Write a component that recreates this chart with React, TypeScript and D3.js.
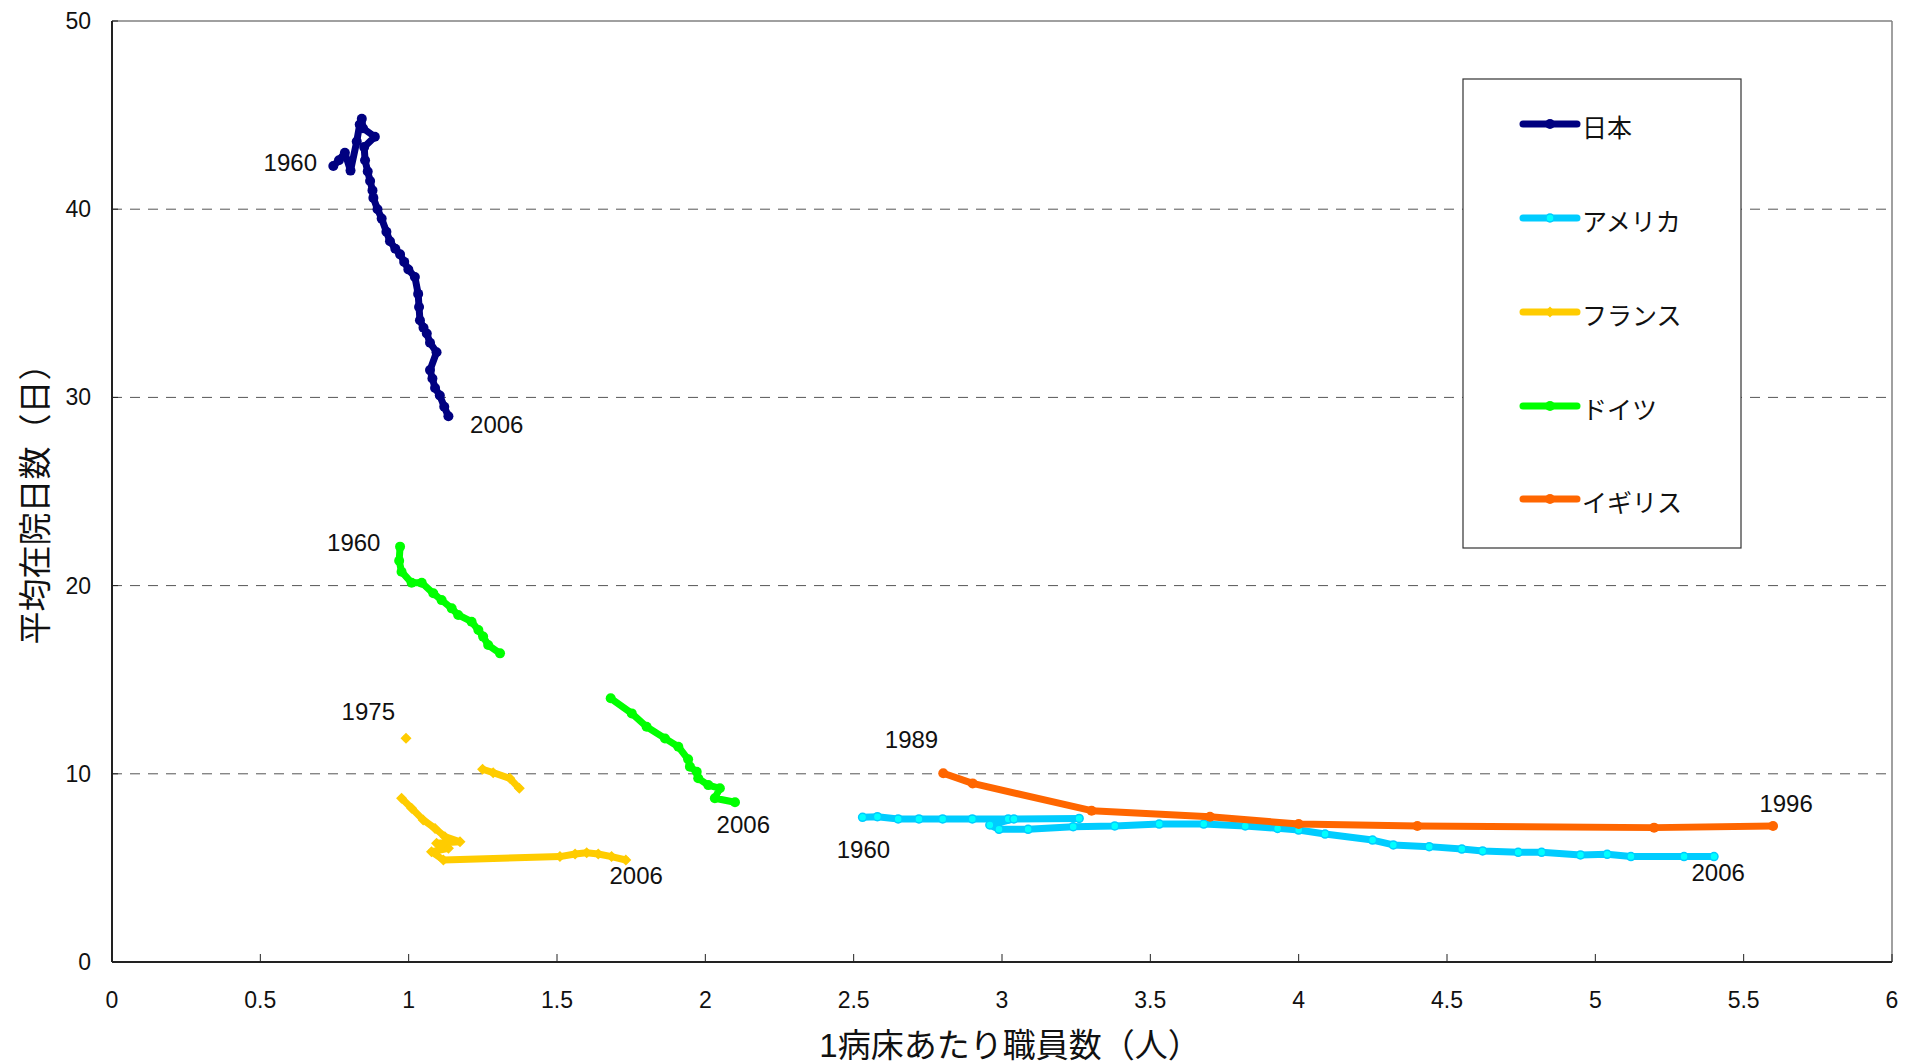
import React from "react";
import * as d3 from "d3";

type P = [number, number] | null;

// ---- data (x: 1病床あたり職員数, y: 平均在院日数) ----
const japan: P[] = [
  [0.746, 42.3], [0.765, 42.6], [0.785, 43.0], [0.804, 42.05], [0.825, 43.6], [0.835, 44.5],
  [0.842, 44.8], [0.846, 44.3], [0.886, 43.85], [0.85, 43.3], [0.853, 42.6], [0.862, 42.0],
  [0.87, 41.5], [0.878, 41.0], [0.881, 40.6], [0.895, 40.0], [0.909, 39.5], [0.925, 38.8],
  [0.937, 38.3], [0.955, 37.9], [0.971, 37.6], [0.985, 37.2], [0.999, 36.8], [1.021, 36.4],
  [1.032, 35.5], [1.035, 34.8], [1.038, 34.1], [1.05, 33.7], [1.061, 33.4], [1.072, 32.9],
  [1.094, 32.4], [1.072, 31.45], [1.08, 31.0], [1.089, 30.5], [1.105, 30.1], [1.12, 29.5],
  [1.134, 29.0],
];

const usa: P[] = [
  [2.53, 7.69], [2.58, 7.72], [2.65, 7.6], [2.72, 7.6], [2.8, 7.6], [2.9, 7.6], [3.021, 7.6],
  [3.26, 7.63], [3.04, 7.6], [2.959, 7.28], [2.99, 7.05], [3.088, 7.05], [3.24, 7.19],
  [3.38, 7.23], [3.53, 7.33], [3.68, 7.33], [3.82, 7.23], [3.929, 7.1], [4.0, 7.01],
  [4.089, 6.8], [4.249, 6.48], [4.319, 6.22], [4.44, 6.13], [4.55, 6.0], [4.62, 5.9],
  [4.74, 5.83], [4.819, 5.83], [4.95, 5.69], [5.04, 5.72], [5.12, 5.6], [5.299, 5.6], [5.4, 5.6],
];

const france: P[] = [
  [0.991, 11.89], null,
  [1.249, 10.24], [1.285, 10.06], [1.341, 9.76], [1.373, 9.23], null,
  [0.976, 8.7], [1.01, 8.17], [1.049, 7.55], [1.089, 7.1], [1.122, 6.66], [1.173, 6.39],
  [1.094, 6.31], [1.134, 6.04], [1.077, 5.86], [1.117, 5.42], [1.51, 5.6], [1.561, 5.74],
  [1.6, 5.81], [1.639, 5.74], [1.684, 5.6], [1.732, 5.42],
];

const germany: P[] = [
  [0.971, 22.07], [0.968, 21.32], [0.976, 20.74], [1.01, 20.15], [1.044, 20.15], [1.083, 19.59],
  [1.111, 19.23], [1.145, 18.79], [1.167, 18.44], [1.212, 18.08], [1.235, 17.64], [1.251, 17.29],
  [1.268, 16.84], [1.308, 16.4], null,
  [1.681, 14.01], [1.752, 13.21], [1.802, 12.5], [1.864, 11.88], [1.909, 11.44], [1.942, 10.77],
  [1.948, 10.38], [1.971, 10.11], [1.976, 9.76], [2.01, 9.4], [2.049, 9.23], [2.032, 8.7],
  [2.1, 8.49],
];

const uk: P[] = [
  [2.802, 10.03], [2.901, 9.49], [3.302, 8.04], [3.701, 7.72], [4.0, 7.33], [4.4, 7.23],
  [5.198, 7.14], [5.599, 7.23],
];

const seriesNames = ["日本", "アメリカ", "フランス", "ドイツ", "イギリス"];
const seriesData = [japan, usa, france, germany, uk];
const seriesColors = ["#000080", "#00CCFF", "#FFCC00", "#00FF00", "#FF6600"];
const markerFill = ["#000080", "#00FFFF", "#FFCC00", "#00FF00", "#FF6600"];
const markerShape = ["circle", "circle", "diamond", "circle", "circle"];

const yearLabels = ["1960", "2006", "1960", "1975", "2006", "2006", "1989", "1960", "2006", "1996"];
const yearLabelX = [0.691, 1.207, 0.725, 0.774, 2.038, 1.677, 2.605, 2.443, 5.324, 5.553];
const yearLabelY = [42.03, 28.11, 21.84, 12.86, 6.84, 4.14, 11.36, 5.51, 4.32, 7.97];
const yearLabelAnchor = ["end", "start", "start", "start", "start", "start", "start", "start", "start", "start"];

const xTicks = [0, 0.5, 1, 1.5, 2, 2.5, 3, 3.5, 4, 4.5, 5, 5.5, 6];
const yTicks = [0, 10, 20, 30, 40, 50];
const xTitle = "1病床あたり職員数（人）";
const yTitle = "平均在院日数（日）";

const W = 1916;
const H = 1062;
const L = 112, R = 1892, T = 21, B = 962;
const FONT = "'Liberation Sans', 'Noto Sans CJK JP', sans-serif";

export default function App() {
  const x = d3.scaleLinear().domain([0, 6]).range([L, R]);
  const y = d3.scaleLinear().domain([0, 50]).range([B, T]);
  const line = d3
    .line<P>()
    .defined((d) => d !== null)
    .x((d) => x((d as [number, number])[0]))
    .y((d) => y((d as [number, number])[1]));

  const legendX = 1463, legendY = 79, legendW = 278, legendH = 469;
  const legendRows = [124, 218, 312, 406, 499];

  const marker = (i: number, cx: number, cy: number, key: string | number) => {
    if (markerShape[i] === "diamond") {
      const s = 5.5;
      return (
        <path
          key={key}
          d={`M${cx},${cy - s}L${cx + s},${cy}L${cx},${cy + s}L${cx - s},${cy}Z`}
          fill={markerFill[i]}
        />
      );
    }
    if (i === 1) {
      return <circle key={key} cx={cx} cy={cy} r={4} fill={markerFill[i]} stroke={seriesColors[i]} strokeWidth={1.5} />;
    }
    return <circle key={key} cx={cx} cy={cy} r={5} fill={markerFill[i]} />;
  };

  return (
    <svg
      width={W}
      height={H}
      style={{ position: "absolute", left: 0, top: 0, background: "#fff" }}
      fontFamily={FONT}
    >
      <rect x={0} y={0} width={W} height={H} fill="#fff" />
      {/* gridlines */}
      {yTicks
        .filter((t) => t > 0 && t < 50)
        .map((t) => (
          <line key={"g" + t} x1={L} x2={R} y1={y(t)} y2={y(t)} stroke="#555" strokeWidth={1} strokeDasharray="10,8" />
        ))}
      {/* frame */}
      <line x1={L} x2={R} y1={T} y2={T} stroke="#808080" strokeWidth={1.5} />
      <line x1={R} x2={R} y1={T} y2={B} stroke="#808080" strokeWidth={1.5} />
      <line x1={L} x2={L} y1={T} y2={B} stroke="#222" strokeWidth={2} />
      <line x1={L} x2={R} y1={B} y2={B} stroke="#222" strokeWidth={2} />
      {/* ticks */}
      {xTicks.map((t) => (
        <g key={"xt" + t}>
          <line x1={x(t)} x2={x(t)} y1={B} y2={B - 8} stroke="#222" strokeWidth={1} />
          <text x={x(t)} y={1000} textAnchor="middle" dominantBaseline="central" fontSize={23} fill="#111">
            {t}
          </text>
        </g>
      ))}
      {yTicks.map((t) => (
        <g key={"yt" + t}>
          <line x1={L} x2={L + 6} y1={y(t)} y2={y(t)} stroke="#222" strokeWidth={1} />
          <text x={91} y={y(t)} textAnchor="end" dominantBaseline="central" fontSize={23} fill="#111">
            {t}
          </text>
        </g>
      ))}
      {/* axis titles */}
      <text x={1010} y={1045} textAnchor="middle" dominantBaseline="central" fontSize={33} fill="#111">
        {xTitle}
      </text>
      <text
        transform={`translate(35,496) rotate(-90)`}
        textAnchor="middle"
        dominantBaseline="central"
        fontSize={33}
        fill="#111"
      >
        {yTitle}
      </text>
      {/* series */}
      {seriesData.map((data, i) => (
        <g key={"s" + i}>
          <path
            d={line(data) || ""}
            fill="none"
            stroke={seriesColors[i]}
            strokeWidth={7}
            strokeLinejoin="round"
            strokeLinecap="round"
          />
          {data.map((d, j) => (d ? marker(i, x(d[0]), y(d[1]), j) : null))}
        </g>
      ))}
      {/* year labels */}
      {yearLabels.map((t, i) => (
        <text
          key={"yl" + i}
          x={x(yearLabelX[i])}
          y={y(yearLabelY[i])}
          textAnchor={yearLabelAnchor[i] as any}
          fontSize={24}
          fill="#111"
        >
          {t}
        </text>
      ))}
      {/* legend */}
      <rect x={legendX} y={legendY} width={legendW} height={legendH} fill="#fff" stroke="#333" strokeWidth={1.2} />
      {seriesNames.map((n, i) => (
        <g key={"lg" + i}>
          <line
            x1={1523}
            x2={1577}
            y1={legendRows[i]}
            y2={legendRows[i]}
            stroke={seriesColors[i]}
            strokeWidth={7}
            strokeLinecap="round"
          />
          {marker(i, 1550, legendRows[i], "m")}
          <text x={1582} y={legendRows[i] + 4} dominantBaseline="central" fontSize={25} fill="#111">
            {n}
          </text>
        </g>
      ))}
    </svg>
  );
}
